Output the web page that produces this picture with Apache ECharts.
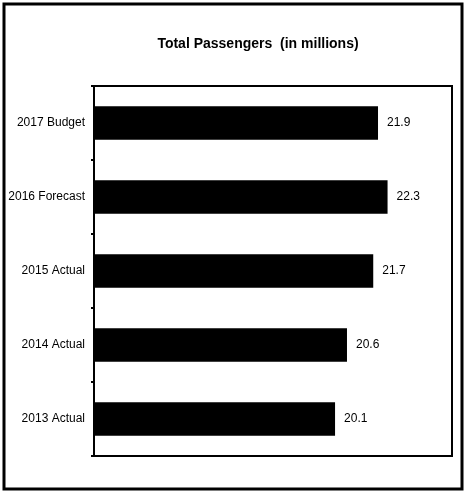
<!DOCTYPE html>
<html><head><meta charset="utf-8">
<script src="https://cdn.jsdelivr.net/npm/echarts@6/dist/echarts.min.js"></script>
<style>html,body{margin:0;padding:0;background:#fff}#c{width:466px;height:493px}</style>
</head><body><div id="c"></div>
<script>
var categories = ['2013 Actual', '2014 Actual', '2015 Actual', '2016 Forecast', '2017 Budget'];
var passengers = [20.1, 20.6, 21.7, 22.3, 21.9];
var titleText = 'Total Passengers  (in millions)';
var FONT = '"Liberation Sans Narrow", "Liberation Sans", Arial, sans-serif';

var chart = echarts.init(document.getElementById('c'), null, {renderer: 'canvas'});
chart.setOption({
  animation: false,
  backgroundColor: '#fff',
  title: {
    text: titleText, left: 253, top: 32, textAlign: 'center',
    textStyle: {fontFamily: 'Liberation Sans, Arial, sans-serif', fontSize: 14, fontWeight: 'bold', color: '#000'}
  },
  graphic: [{
    type: 'rect', shape: {x: 4, y: 4, width: 458, height: 485},
    style: {fill: 'none', stroke: '#000', lineWidth: 3}, silent: true
  }],
  grid: {left: 94, right: 14, top: 86, bottom: 37, show: true, borderColor: '#000', borderWidth: 2, backgroundColor: 'transparent'},
  xAxis: {
    type: 'value', min: 10, max: 25, show: false
  },
  yAxis: {
    type: 'category', data: categories,
    axisLine: {lineStyle: {color: '#000', width: 2}},
    axisTick: {show: true, length: 3, lineStyle: {color: '#000', width: 2}},
    axisLabel: {color: '#000', fontFamily: FONT, fontSize: 12, margin: 9}
  },
  series: [{
    type: 'bar', data: passengers, barCategoryGap: '55%',
    itemStyle: {color: '#000'},
    label: {show: true, position: 'right', distance: 9, color: '#000', fontFamily: FONT, fontSize: 12,
      formatter: function (p) { return p.value.toFixed(1); }}
  }]
});
</script></body></html>
